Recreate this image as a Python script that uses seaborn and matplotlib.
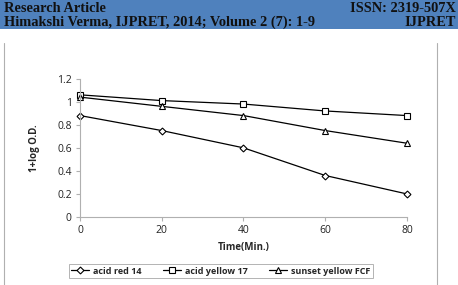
import matplotlib
matplotlib.use("Agg")
import matplotlib.pyplot as plt
import matplotlib.lines as mlines
import numpy as np
import pandas as pd
import seaborn as sns

# data
time_min = [0, 20, 40, 60, 80]
acid_red_14 = [0.88, 0.75, 0.60, 0.36, 0.20]
acid_yellow_17 = [1.06, 1.01, 0.98, 0.92, 0.88]
sunset_yellow_fcf = [1.04, 0.96, 0.88, 0.75, 0.64]
series_names = ['acid red 14', 'acid yellow 17', 'sunset yellow FCF']
series_markers = ['D', 's', '^']
series_sizes = [3.5, 5, 5]

header_left = ['Research Article', 'Himakshi Verma, IJPRET, 2014; Volume 2 (7): 1-9']
header_right = ['ISSN: 2319-507X', 'IJPRET']

sns.set_style('white')
plt.rcParams['font.family'] = ['Open Sans', 'DejaVu Sans']

rows = []
for name, vals in zip(series_names, [acid_red_14, acid_yellow_17, sunset_yellow_fcf]):
    for t, v in zip(time_min, vals):
        rows.append({'Time': t, 'OD': v, 'Series': name})
df = pd.DataFrame(rows)

fig = plt.figure(figsize=(4.58, 2.85), dpi=100)
ax = fig.add_axes([0.1747, 0.2386, 0.7139, 0.4853])

handles = []
for name, m, ms in zip(series_names, series_markers, series_sizes):
    sub = df[df['Series'] == name]
    sns.lineplot(data=sub, x='Time', y='OD', ax=ax, color='black', linewidth=0.9,
                 marker=m, markersize=ms, markerfacecolor='white',
                 markeredgecolor='black', markeredgewidth=0.8, legend=False)
    handles.append(mlines.Line2D([], [], color='black', linewidth=0.9, marker=m,
                                 markersize=ms, markerfacecolor='white',
                                 markeredgecolor='black', markeredgewidth=0.8, label=name))

ax.set_xlim(0, 80)
ax.set_ylim(0, 1.2)
ax.set_xticks([0, 20, 40, 60, 80])
ax.set_yticks([0, 0.2, 0.4, 0.6, 0.8, 1.0, 1.2])
ax.set_yticklabels(['0', '0.2', '0.4', '0.6', '0.8', '1', '1.2'])
ax.set_xlabel('Time(Min.)', fontsize=7, fontweight='bold', labelpad=4)
ax.set_ylabel('1+log O.D.', fontsize=7, fontweight='bold', labelpad=12)
for s in ['top', 'right']:
    ax.spines[s].set_visible(False)
for s in ['left', 'bottom']:
    ax.spines[s].set_color('#b0b0b0')
    ax.spines[s].set_linewidth(0.8)
ax.tick_params(axis='both', labelsize=7.5, length=3, width=0.8, color='#b0b0b0',
               labelcolor='#222222', direction='out', left=True, bottom=True, pad=3)
for ln in ax.lines:
    ln.set_clip_on(False)

leg = fig.legend(handles=handles, loc='center', bbox_to_anchor=(0.482, 0.0491),
                 ncol=3, frameon=True, fancybox=False,
                 prop={'weight': 'bold', 'size': 6.5}, handlelength=2.0,
                 columnspacing=2.4, handletextpad=0.4, borderpad=0.3)
leg.get_frame().set_edgecolor('#a0a0a0')
leg.get_frame().set_linewidth(0.7)

# header band
fig.patches.append(plt.Rectangle((0, 1 - 29 / 285), 1, 29 / 285, transform=fig.transFigure,
                                 facecolor='#4f81bd', edgecolor='none', zorder=0))
for i, (l, r) in enumerate(zip(header_left, header_right)):
    y = 1 - (8 + i * 14.5) / 285
    fig.text(0.008, y, l, ha='left', va='center', fontsize=10.4, fontweight='bold',
             family='Liberation Serif', color='#111111')
    fig.text(0.996, y, r, ha='right', va='center', fontsize=10.4, fontweight='bold',
             family='Liberation Serif', color='#111111')

# chart frame edges
for xf in [3.5 / 458, 437 / 458]:
    fig.lines.append(mlines.Line2D([xf, xf], [0, 1 - 43 / 285], transform=fig.transFigure,
                                   color='#b0b0b0', linewidth=0.8))

fig.savefig('out.png', dpi=100)
